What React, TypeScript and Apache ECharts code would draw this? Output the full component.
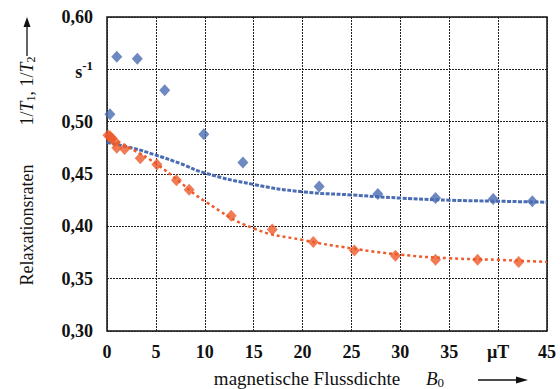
import React, { useEffect, useRef } from "react";
import * as echarts from "echarts";

const blueX = [0.3, 1.0, 3.1, 5.9, 9.9, 13.9, 21.7, 27.7, 33.6, 39.5, 43.5];
const blueY = [0.507, 0.562, 0.560, 0.530, 0.488, 0.461, 0.438, 0.431, 0.427, 0.426, 0.424];

const orangeX = [0.1, 0.3, 0.5, 0.8, 1.0, 1.8, 3.4, 5.1, 7.1, 8.4, 12.7, 16.9, 21.1, 25.3, 29.5, 33.6, 37.9, 42.1];
const orangeY = [0.487, 0.486, 0.484, 0.481, 0.475, 0.474, 0.465, 0.459, 0.444, 0.435, 0.410, 0.397, 0.385, 0.377, 0.372, 0.368, 0.368, 0.366];

const fitX = [0, 2.5, 5, 7.5, 10, 15, 20, 25, 30, 35, 40, 45];
const blueFitY = [0.480, 0.475, 0.468, 0.460, 0.451, 0.440, 0.433, 0.430, 0.427, 0.425, 0.424, 0.423];
const orangeFitY = [0.486, 0.474, 0.460, 0.442, 0.424, 0.398, 0.387, 0.379, 0.373, 0.3695, 0.368, 0.366];

const xTicks = ["0", "5", "10", "15", "20", "25", "30", "35", "µT", "45"];
const yTicks = ["0,30", "0,35", "0,40", "0,45", "0,50", "s-1", "0,60"];

const BLUE = "#4a6cb3";
const ORANGE = "#ee5a2b";
const FONT = "Liberation Serif";

export default function App() {
  const ref = useRef<HTMLDivElement>(null);
  useEffect(() => {
    const chart = echarts.init(ref.current!, null, { renderer: "svg" });
    const pair = (xs: number[], ys: number[]) => xs.map((x, i) => [x, ys[i]]);
    chart.setOption({
      animation: false,
      grid: {
        left: 107,
        right: 13,
        top: 17,
        bottom: 58,
        show: true,
        borderColor: "#111",
        borderWidth: 1.5,
        backgroundColor: "transparent",
      },
      xAxis: {
        type: "value",
        min: 0,
        max: 45,
        interval: 5,
        axisLine: { show: false },
        axisTick: { show: false },
        splitLine: { show: true, lineStyle: { color: "#222", type: [2, 1], width: 1 } },
        axisLabel: {
          margin: 12,
          fontFamily: FONT,
          fontWeight: "bold",
          fontSize: 18,
          color: "#111",
          formatter: (v: number) => xTicks[Math.round(v / 5)] ?? "",
        },
      },
      yAxis: {
        type: "value",
        min: 0.3,
        max: 0.6,
        interval: 0.05,
        axisLine: { show: false },
        axisTick: { show: false },
        splitLine: { show: true, lineStyle: { color: "#222", type: [2, 1], width: 1 } },
        axisLabel: {
          margin: 14,
          fontFamily: FONT,
          fontWeight: "bold",
          fontSize: 18,
          color: "#111",
          formatter: (v: number) => {
            const t = yTicks[Math.round((v - 0.3) / 0.05)] ?? "";
            if (t === "s-1") return "{s|s}{sup|-1}";
            return t;
          },
          rich: {
            s: { fontFamily: FONT, fontWeight: "bold", fontSize: 18, color: "#111", padding: [6, 0, 0, 0] },
            sup: { fontFamily: FONT, fontWeight: "bold", fontSize: 13, color: "#111", padding: [0, 0, 8, 0] },
          },
        },
      },
      series: [
        {
          type: "line",
          data: pair(fitX, blueFitY),
          smooth: true,
          showSymbol: false,
          lineStyle: { color: BLUE, width: 3, type: [4, 1.5] },
          z: 2,
        },
        {
          type: "line",
          data: pair(fitX, orangeFitY),
          smooth: true,
          showSymbol: false,
          lineStyle: { color: ORANGE, width: 2.5, type: [3, 3] },
          z: 2,
        },
        {
          type: "scatter",
          data: pair(blueX, blueY),
          symbol: "diamond",
          symbolSize: [11, 12],
          itemStyle: { color: BLUE },
          z: 3,
        },
        {
          type: "scatter",
          data: pair(orangeX, orangeY),
          symbol: "diamond",
          symbolSize: [11, 12],
          itemStyle: { color: ORANGE },
          z: 3,
        },
      ],
      graphic: [
        {
          type: "text",
          x: 27,
          y: 225,
          rotation: Math.PI / 2,
          style: {
            text: "Relaxationsraten",
            fontFamily: FONT,
            fontSize: 18,
            fill: "#111",
            align: "center",
            verticalAlign: "middle",
          },
        },
        {
          type: "text",
          x: 27,
          y: 91,
          rotation: Math.PI / 2,
          style: {
            text: "{n|1/}{i|T}{sub|1}{n|, 1/}{i|T}{sub|2}",
            align: "center",
            verticalAlign: "middle",
            rich: {
              n: { fontFamily: FONT, fontSize: 18, fill: "#111" },
              i: { fontFamily: FONT, fontSize: 18, fontStyle: "italic", fill: "#111" },
              sub: { fontFamily: FONT, fontSize: 12, fill: "#111", padding: [8, 0, 0, 0] },
            },
          },
        },
        {
          type: "line",
          shape: { x1: 27, y1: 56, x2: 27, y2: 24 },
          style: { stroke: "#111", lineWidth: 1.3 },
        },
        {
          type: "polygon",
          shape: { points: [[27, 17], [23.5, 27], [30.5, 27]] },
          style: { fill: "#111" },
        },
        {
          type: "text",
          x: 307,
          y: 378,
          style: {
            text: "magnetische Flussdichte",
            fontFamily: FONT,
            fontSize: 19,
            fill: "#111",
            align: "center",
            verticalAlign: "middle",
          },
        },
        {
          type: "text",
          x: 435,
          y: 378,
          style: {
            text: "{i|B}{sub|0}",
            align: "center",
            verticalAlign: "middle",
            rich: {
              i: { fontFamily: FONT, fontSize: 19, fontStyle: "italic", fill: "#111" },
              sub: { fontFamily: FONT, fontSize: 13, fill: "#111", padding: [8, 0, 0, 0] },
            },
          },
        },
        {
          type: "line",
          shape: { x1: 478, y1: 380, x2: 518, y2: 380 },
          style: { stroke: "#111", lineWidth: 1.3 },
        },
        {
          type: "polygon",
          shape: { points: [[528, 380], [516, 376.5], [516, 383.5]] },
          style: { fill: "#111" },
        },
      ],
    });
    return () => chart.dispose();
  }, []);
  return <div ref={ref} style={{ width: 560, height: 389, position: "absolute", left: 0, top: 0 }} />;
}
